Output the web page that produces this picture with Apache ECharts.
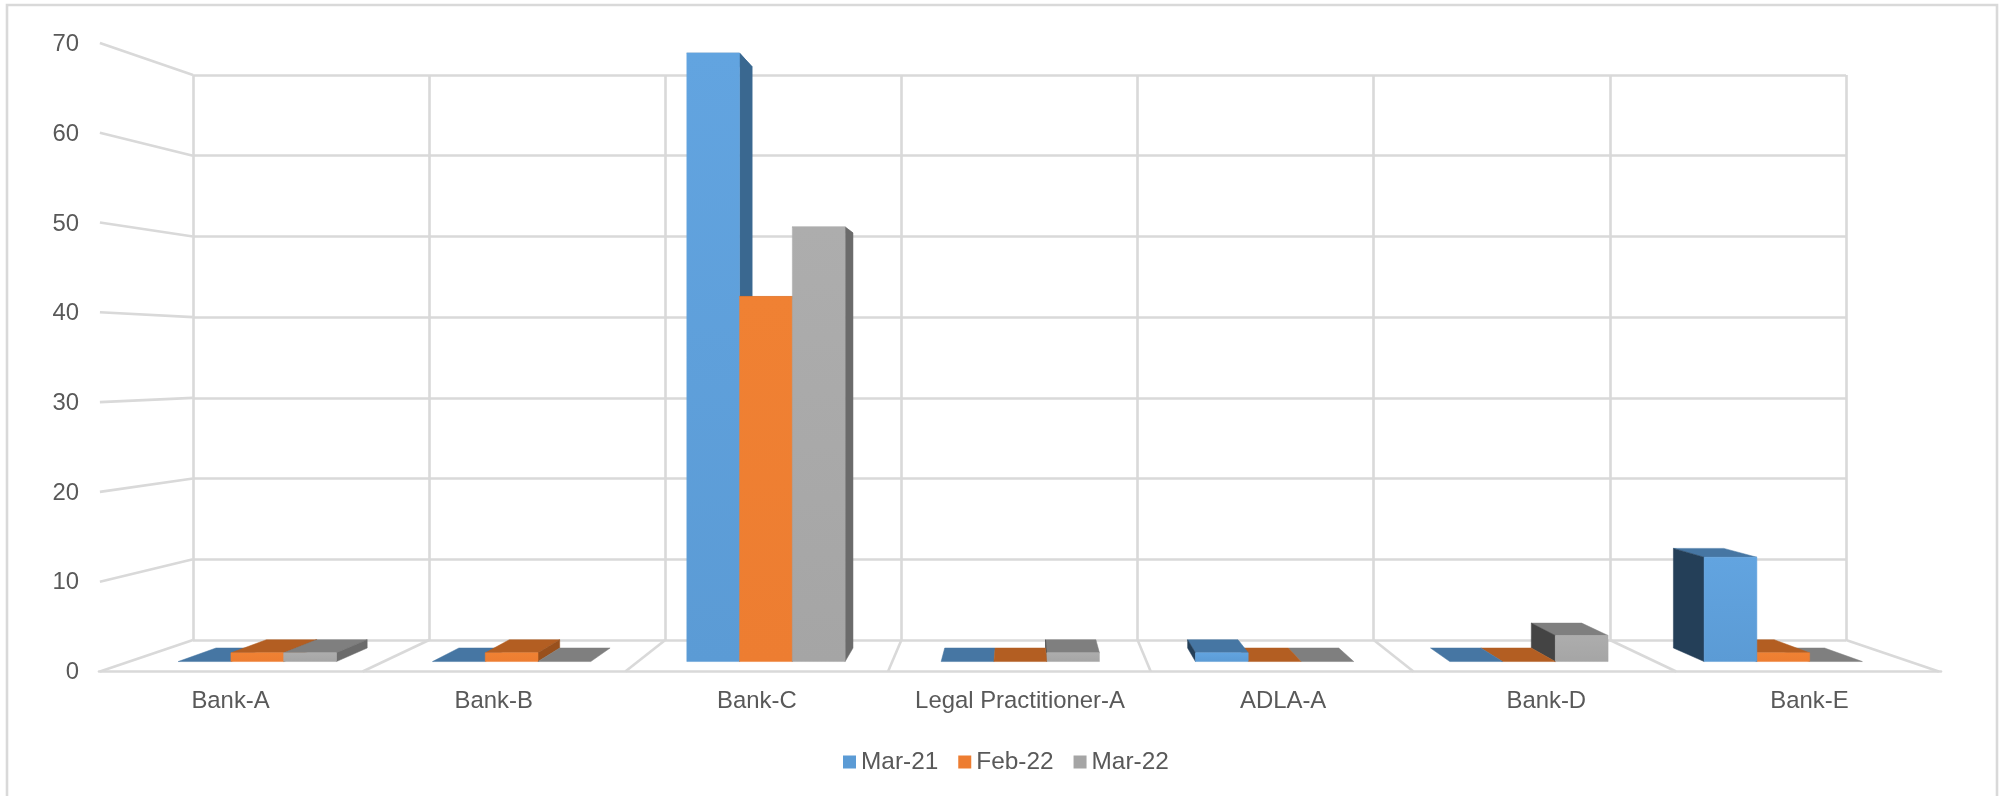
<!DOCTYPE html>
<html>
<head>
<meta charset="utf-8">
<style>html,body{margin:0;padding:0;background:#fff}#chart{width:2000px;height:796px}</style>
<script src="https://cdn.jsdelivr.net/npm/echarts@6/dist/echarts.min.js"></script>
</head>
<body>
<div id="chart"></div>
<script>
// Values by category
const categories = ['Bank-A', 'Bank-B', 'Bank-C', 'Legal Practitioner-A', 'ADLA-A', 'Bank-D', 'Bank-E'];
const mar21 = [0, 0, 70, 0, 1, 0, 12];
const feb22 = [1, 1, 42, 0, 0, 0, 1];
const mar22 = [1, 0, 50, 1, 0, 3, 0];
const valueTicks = [0, 10, 20, 30, 40, 50, 60, 70];

// Perspective set-up: points on the back wall are scaled about the vanishing point
const VX = 1020.5, VY = 360;
const S_FRONT_EDGE = 1.1125, S_BAR_FRONT = 1.077, S_BAR_BACK = 1.0286;
const GAP_RATIO = 1.82, BAR_SHIFT = 0.8;
const GRID_COLOR = '#d9d9d9', TEXT_COLOR = '#595959', FONT = '"Liberation Sans", Arial, sans-serif';
const LINE_WIDTH = 2.6;

const project = (p, s) => [VX + (p[0] - VX) * s, VY + (p[1] - VY) * s];

const palette = {
  'Mar-21': { legend: '#5B9BD5', front: '#62a4e0', top: '#4676a3', right: '#3a6890', left: '#243f58' },
  'Feb-22': { legend: '#ED7D31', front: '#f08133', top: '#b35e22', right: '#99501c', left: '#6e3a14' },
  'Mar-22': { legend: '#A5A5A5', front: '#adadad', top: '#7f7f7f', right: '#6b6b6b', left: '#444444' }
};

function barSeries(name, values, slot) {
  const c = palette[name];
  return {
    name, type: 'custom', xAxisIndex: 1, yAxisIndex: 1, clip: false, silent: true,
    itemStyle: { color: c.legend },
    encode: { x: 0, y: 1 },
    data: values.map((v, i) => [i, v]),
    renderItem(params, api) {
      const center = api.coord([api.value(0), 0]);
      const band = api.size([1, 0])[0];
      const w = band / (3 + GAP_RATIO);
      const x0 = center[0] + (slot - 1.5) * w + BAR_SHIFT, x1 = x0 + w;
      const yBase = center[1], yTop = api.coord([api.value(0), api.value(1)])[1];
      const fp = (x, y) => project([x, y], S_BAR_FRONT);
      const bp = (x, y) => project([x, y], S_BAR_BACK);
      // Bars nearer the vanishing point hide the ones further from it
      const z2 = 3000 - Math.round(Math.abs((x0 + x1) / 2 - VX));
      const face = (points, fill) => ({ type: 'polygon', z2, shape: { points }, style: { fill, stroke: fill, lineWidth: 0.5 } });
      const children = [];
      children.push(face([fp(x0, yTop), fp(x1, yTop), bp(x1, yTop), bp(x0, yTop)], c.top));
      if (yTop < yBase) {
        if (x1 < VX) children.push(face([fp(x1, yBase), fp(x1, yTop), bp(x1, yTop), bp(x1, yBase)], c.right));
        if (x0 > VX) children.push(face([fp(x0, yBase), fp(x0, yTop), bp(x0, yTop), bp(x0, yBase)], c.left));
        const shade = new echarts.graphic.LinearGradient(0, 0, 0, 1, [
          { offset: 0, color: c.front }, { offset: 1, color: c.legend }
        ]);
        children.push(face([fp(x0, yBase), fp(x1, yBase), fp(x1, yTop), fp(x0, yTop)], shade));
      }
      return { type: 'group', children };
    }
  };
}

const lineEl = (a, b) => ({
  type: 'line', shape: { x1: a[0], y1: a[1], x2: b[0], y2: b[1] },
  style: { stroke: GRID_COLOR, lineWidth: LINE_WIDTH }
});

// Side-wall gridlines running from the back wall out to the value labels
const wallSeries = {
  type: 'custom', xAxisIndex: 1, yAxisIndex: 1, clip: false, silent: true, z: 1,
  encode: { y: 0 },
  data: valueTicks.map(v => [v]),
  renderItem(params, api) {
    const c = api.coord([0, api.value(0)]);
    const p = [c[0] - api.size([1, 0])[0] / 2, c[1]];
    return lineEl(p, project(p, S_FRONT_EDGE));
  }
};

// Floor dividers between categories, plus the far right edge
const floorSeries = {
  type: 'custom', xAxisIndex: 1, yAxisIndex: 1, clip: false, silent: true, z: 1,
  encode: { x: 0 },
  data: categories.map((_, i) => [i]),
  renderItem(params, api) {
    const i = api.value(0);
    const c = api.coord([i, 0]);
    const band = api.size([1, 0])[0];
    const lines = [];
    if (i > 0) lines.push(lineEl([c[0] - band / 2, c[1]], project([c[0] - band / 2, c[1]], S_FRONT_EDGE)));
    if (i === categories.length - 1) lines.push(lineEl([c[0] + band / 2, c[1]], project([c[0] + band / 2, c[1]], S_FRONT_EDGE)));
    return { type: 'group', children: lines };
  }
};

const axisText = { color: TEXT_COLOR, fontSize: 23.9, fontFamily: FONT };
const splitStyle = { show: true, lineStyle: { color: GRID_COLOR, width: LINE_WIDTH } };
const hiddenAxis = { show: false };

const chart = echarts.init(document.getElementById('chart'), null, { renderer: 'canvas' });
chart.setOption({
  animation: false,
  backgroundColor: '#ffffff',
  textStyle: { fontFamily: FONT },
  graphic: [{
    type: 'rect', silent: true, z: -1,
    shape: { x: 7, y: 5, width: 1990, height: 810 },
    style: { fill: 'none', stroke: GRID_COLOR, lineWidth: LINE_WIDTH }
  }],
  legend: {
    left: 843, top: 750, padding: 0, itemWidth: 13, itemHeight: 13, itemGap: 20, icon: 'rect',
    textStyle: { color: TEXT_COLOR, fontSize: 24.4, fontFamily: FONT },
    data: ['Mar-21', 'Feb-22', 'Mar-22']
  },
  grid: [
    // Front edge of the floor: category labels and the front floor line
    { left: 99, right: 59, top: 43, bottom: 125 },
    // Back wall: gridlines and the bar scales
    { left: 193, right: 154, top: 75, bottom: 156 },
    // Value labels, sitting just under the ends of the side-wall lines
    { left: 99, right: 59, top: 44.6, bottom: 123.4 }
  ],
  xAxis: [
    {
      gridIndex: 0, type: 'category', data: categories,
      axisLine: { show: true, lineStyle: { color: GRID_COLOR, width: LINE_WIDTH } },
      axisTick: { show: false }, splitLine: { show: false },
      axisLabel: { ...axisText, margin: 18, interval: 0 }
    },
    {
      gridIndex: 1, type: 'category', data: categories,
      axisLine: { show: false }, axisTick: { show: false }, axisLabel: { show: false },
      splitLine: { ...splitStyle, interval: 0 }
    },
    { gridIndex: 2, type: 'category', data: categories, ...hiddenAxis }
  ],
  yAxis: [
    { gridIndex: 0, type: 'value', min: 0, max: 70, interval: 10, ...hiddenAxis },
    {
      gridIndex: 1, type: 'value', min: 0, max: 70, interval: 10,
      axisLine: { show: false }, axisTick: { show: false }, axisLabel: { show: false },
      splitLine: splitStyle
    },
    {
      gridIndex: 2, type: 'value', min: 0, max: 70, interval: 10,
      axisLine: { show: false }, axisTick: { show: false }, splitLine: { show: false },
      axisLabel: { ...axisText, margin: 20 }
    }
  ],
  series: [
    wallSeries,
    floorSeries,
    barSeries('Mar-21', mar21, 0),
    barSeries('Feb-22', feb22, 1),
    barSeries('Mar-22', mar22, 2)
  ]
});
</script>
</body>
</html>
